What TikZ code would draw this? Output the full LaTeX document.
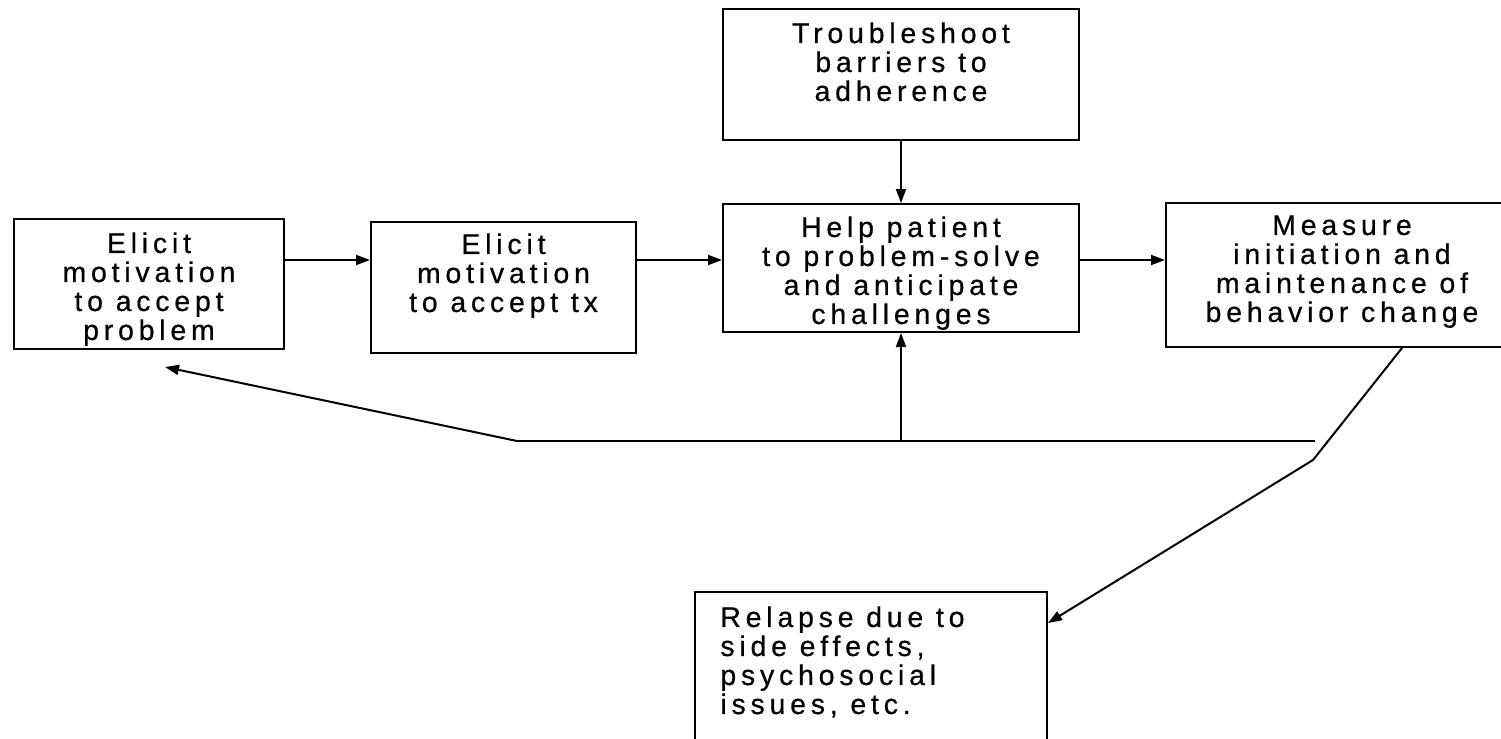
\documentclass[tikz,border=0pt]{standalone}
\usepackage{fontspec}
\setmainfont{Liberation Sans}[LetterSpace=17,FakeBold=0.6]
\usetikzlibrary{arrows.meta}
\begin{document}
\begin{tikzpicture}[x=0.5pt,y=-0.5pt,
  box/.style={draw,line width=1pt,inner sep=0pt,rectangle},
  txt/.style={inner sep=0pt,font=\fontsize{14.2pt}{14.5pt}\selectfont,align=center},
  arr/.style={line width=1pt,-{Triangle[length=7pt,width=5pt]}},
  ln/.style={line width=1pt}]
\clip (0,0) rectangle (1501,739);
% boxes
\node[box,minimum width=135pt,minimum height=65pt] (b1) at (149,284) {};
\node[box,minimum width=132.5pt,minimum height=65.5pt] (b2) at (503.5,287.5) {};
\node[box,minimum width=178pt,minimum height=64pt] (help) at (901,268) {};
\node[box,minimum width=178pt,minimum height=65.5pt] (trouble) at (901,74.5) {};
\node[box,minimum width=176pt,minimum height=72pt] (meas) at (1342,275) {};
\node[box,minimum width=176pt,minimum height=84pt] (relapse) at (871,676) {};
% texts
\node[txt,anchor=north] (t1) at (149,232) {Elicit\\motivation\\to accept\\problem};
\node[txt,anchor=north] (t2) at (503.5,233) {Elicit\\motivation\\to accept tx};
\node[txt,anchor=north] (t3) at (901,216) {Help patient\\to problem-solve\\and anticipate\\challenges};
\node[txt,anchor=north] (t4) at (901,22) {Troubleshoot\\barriers to\\adherence};
\node[txt,anchor=north] (t5) at (1342,215) {Measure\\initiation and\\maintenance of\\behavior change};
\node[txt,anchor=north west,align=left] (t6) at (720,606) {Relapse due to\\side effects,\\psychosocial\\issues, etc.};
% connectors
\draw[arr] (b1.east |- 0,260) -- (b2.west |- 0,260);
\draw[arr] (b2.east |- 0,260) -- (help.west |- 0,260);
\draw[arr] (help.east |- 0,260) -- (meas.west |- 0,260);
\draw[arr] (trouble.south) -- (help.north);
\coordinate (R) at (1315,441);
\coordinate (L) at (517,441);
\coordinate (J) at (help.south |- R);
\coordinate (tip) at (165,367);
\coordinate (K) at (1313,460);
\draw[ln] (R) -- (L);
\draw[arr] (L) -- (tip);
\draw[arr] (J) -- (help.south);
\draw[arr] (meas.south -| 1402,0) -- (K) -- (relapse.east |- 0,623);
\end{tikzpicture}
\end{document}
